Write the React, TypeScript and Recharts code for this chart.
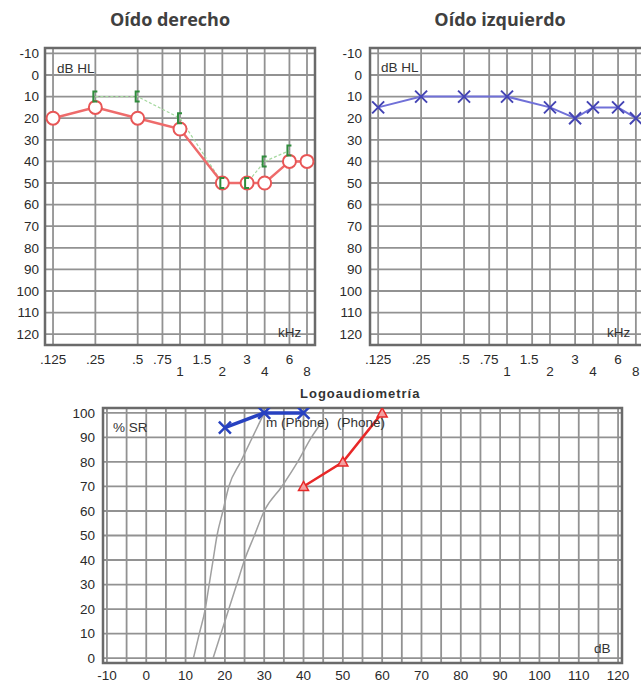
import React from "react";
import {
  ComposedChart,
  Line,
  XAxis,
  YAxis,
  CartesianGrid,
  ReferenceArea
} from "recharts";

// audiogram axes
const freqTicks = [0.125, 0.25, 0.5, 0.75, 1, 1.5, 2, 3, 4, 6, 8];
const freqLabels = [".125", ".25", ".5", ".75", "1", "1.5", "2", "3", "4", "6", "8"];
const freqLowerRow = [1, 2, 4, 8];
const hlTicks = [-10, 0, 10, 20, 30, 40, 50, 60, 70, 80, 90, 100, 110, 120];

// right ear (air = O, bone = [)
const rightAirFreq = [0.125, 0.25, 0.5, 1, 2, 3, 4, 6, 8];
const rightAirDb = [20, 15, 20, 25, 50, 50, 50, 40, 40];
const rightBoneFreq = [0.25, 0.5, 1, 2, 3, 4, 6];
const rightBoneDb = [10, 10, 20, 50, 50, 40, 35];

// left ear (air = X)
const leftAirFreq = [0.125, 0.25, 0.5, 1, 2, 3, 4, 6, 8];
const leftAirDb = [15, 10, 10, 10, 15, 20, 15, 15, 20];

// logoaudiometria
const srDbTicks = [-10, -5, 0, 5, 10, 15, 20, 25, 30, 35, 40, 45, 50, 55, 60, 65, 70, 75, 80, 85, 90, 95, 100, 105, 110, 115, 120];
const srPctTicks = [0, 10, 20, 30, 40, 50, 60, 70, 80, 90, 100];
const normalADb = [12, 13.5, 15, 16, 17, 18, 19.5, 21, 24, 27, 30];
const normalAPct = [0, 10, 20, 30, 40, 50, 60, 70, 80, 90, 100];
const normalBDb = [17, 19, 21, 23, 25, 27.5, 30, 34.5, 38.5, 42, 45];
const normalBPct = [0, 10, 20, 30, 40, 50, 60, 70, 80, 90, 97];
const leftSrDb = [20, 30, 40];
const leftSrPct = [94, 100, 100];
const rightSrDb = [40, 50, 60];
const rightSrPct = [70, 80, 100];

const FREQ_DOMAIN = [0.1096, 9.12];
const HL_DOMAIN = [-12.5, 125];
const SR_X_DOMAIN = [-11, 121];
const SR_Y_DOMAIN = [-2, 102];

const zip = (xs: number[], ys: number[]) => xs.map((x, i) => ({ x, y: ys[i] }));

const FONT = "'Liberation Sans', Arial, sans-serif";
const GRID = "#929292";
const FRAME = "#6a6a6a";
const TICK = { fontSize: 13.5, fill: "#2a2a2a", fontFamily: FONT };

const FreqTick = (p: any) => {
  const v = p.payload.value;
  const label = freqLabels[freqTicks.indexOf(v)];
  const low = freqLowerRow.includes(v);
  return (
    <text
      x={p.x + (v === 1.5 ? -3 : 0)}
      y={p.y + (low ? 12 : 0)}
      dy="0.71em"
      textAnchor="middle"
      fontSize={13.5}
      fill="#2a2a2a"
      fontFamily={FONT}
    >
      {label}
    </text>
  );
};

const ringDot = (p: any) => (
  <circle key={`o${p.index}`} cx={p.cx} cy={p.cy} r={6.5} fill="#fff" stroke="#e85656" strokeWidth={2} />
);

const bracketDot = (p: any) => (
  <path
    key={`b${p.index}`}
    d={`M${p.cx + 2},${p.cy - 5} L${p.cx - 2},${p.cy - 5} L${p.cx - 2},${p.cy + 5} L${p.cx + 2},${p.cy + 5}`}
    fill="none"
    stroke="#2f8c3c"
    strokeWidth={2}
  />
);

const crossDot = (color: string, s: number, w: number) => (p: any) => (
  <path
    key={`x${p.index}`}
    d={`M${p.cx - s},${p.cy - s} L${p.cx + s},${p.cy + s} M${p.cx - s},${p.cy + s} L${p.cx + s},${p.cy - s}`}
    stroke={color}
    strokeWidth={w}
    fill="none"
  />
);

const triDot = (p: any) => (
  <path
    key={`t${p.index}`}
    d={`M${p.cx},${p.cy - 5} L${p.cx + 5},${p.cy + 4} L${p.cx - 5},${p.cy + 4} Z`}
    fill="#f3a0a0"
    stroke="#e82828"
    strokeWidth={1.5}
  />
);

function Note({ x, y, size = 13.5, children }: any) {
  return (
    <div
      style={{
        position: "absolute",
        left: x,
        top: y,
        transform: "translateY(-50%)",
        fontFamily: FONT,
        fontSize: size,
        lineHeight: 1,
        color: "#333",
        whiteSpace: "nowrap"
      }}
    >
      {children}
    </div>
  );
}

function Title({ cx, children }: any) {
  return (
    <div
      style={{
        position: "absolute",
        left: cx - 100,
        width: 200,
        top: 19,
        transform: "translateY(-50%)",
        textAlign: "center",
        fontFamily: "'Open Sans', sans-serif",
        fontWeight: 700,
        fontSize: 18,
        lineHeight: 1,
        color: "#404040"
      }}
    >
      {children}
    </div>
  );
}

function Audiogram({ left, width, right, tickGap, children }: any) {
  return (
    <div style={{ position: "absolute", left, top: 40 }}>
      <ComposedChart width={width} height={340} margin={{ top: 8, right, left: 0, bottom: 0 }}>
        <CartesianGrid stroke={GRID} strokeWidth={1.8} />
        <XAxis
          type="number"
          dataKey="x"
          scale="log"
          domain={FREQ_DOMAIN}
          ticks={freqTicks}
          interval={0}
          allowDataOverflow
          axisLine={false}
          tickLine={false}
          tickSize={0}
          tickMargin={9}
          height={35}
          tick={(p: any) => <FreqTick key={p.index} {...p} />}
        />
        <YAxis
          type="number"
          reversed
          domain={HL_DOMAIN}
          ticks={hlTicks}
          interval={0}
          allowDataOverflow
          axisLine={false}
          tickLine={false}
          tickSize={0}
          tickMargin={tickGap}
          width={45}
          tick={TICK}
        />
        <ReferenceArea
          x1={FREQ_DOMAIN[0]}
          x2={FREQ_DOMAIN[1]}
          y1={HL_DOMAIN[0]}
          y2={HL_DOMAIN[1]}
          fill="none"
          stroke={FRAME}
          strokeWidth={2.5}
        />
        {children}
      </ComposedChart>
    </div>
  );
}

export default function App() {
  const rightAir = zip(rightAirFreq, rightAirDb);
  const rightBone = zip(rightBoneFreq, rightBoneDb);
  const leftAir = zip(leftAirFreq, leftAirDb);

  return (
    <div
      style={{
        position: "fixed",
        left: 0,
        top: 0,
        width: 641,
        height: 689,
        overflow: "hidden",
        background: "#fff"
      }}
    >
      <Title cx={170}>Oído derecho</Title>
      <Title cx={500}>Oído izquierdo</Title>

      <Audiogram left={0} width={320} right={5} tickGap={6}>
        <Line data={rightBone} dataKey="y" type="linear" stroke="#a6d9a0" strokeWidth={1.2} strokeDasharray="3 2" dot={false} isAnimationActive={false} />
        <Line data={rightAir} dataKey="y" type="linear" stroke="#ee6b6b" strokeWidth={2.5} dot={ringDot} isAnimationActive={false} />
        <Line data={rightBone} dataKey="y" type="linear" stroke="none" dot={bracketDot} isAnimationActive={false} />
      </Audiogram>

      <Audiogram left={325} width={322} right={3} tickGap={8}>
        <Line data={leftAir} dataKey="y" type="linear" stroke="#7070d8" strokeWidth={2} dot={crossDot("#4444b4", 6, 2)} isAnimationActive={false} />
      </Audiogram>

      <Note x={57} y={69}>dB HL</Note>
      <Note x={278} y={333}>kHz</Note>
      <Note x={381} y={68}>dB HL</Note>
      <Note x={607} y={333}>kHz</Note>

      <div
        style={{
          position: "absolute",
          left: 300,
          top: 393,
          transform: "translateY(-50%)",
          fontFamily: FONT,
          fontSize: 13,
          fontWeight: 700,
          letterSpacing: 1,
          lineHeight: 1,
          color: "#333"
        }}
      >
        Logoaudiometría
      </div>

      <div style={{ position: "absolute", left: 40, top: 400 }}>
        <ComposedChart width={600} height={289} margin={{ top: 8, right: 18, left: 0, bottom: 0 }}>
          <CartesianGrid stroke={GRID} strokeWidth={1.8} />
          <XAxis
            type="number"
            dataKey="x"
            domain={SR_X_DOMAIN}
            ticks={srDbTicks}
            interval={0}
            allowDataOverflow
            axisLine={false}
            tickLine={false}
            tickSize={0}
            tickMargin={7}
            height={26}
            tickFormatter={(v: number) => (v % 10 === 0 ? String(v) : "")}
            tick={TICK}
          />
          <YAxis
            type="number"
            domain={SR_Y_DOMAIN}
            ticks={srPctTicks}
            interval={0}
            allowDataOverflow
            axisLine={false}
            tickLine={false}
            tickSize={0}
            tickMargin={8}
            width={63}
            tick={TICK}
          />
          <ReferenceArea
            x1={SR_X_DOMAIN[0]}
            x2={SR_X_DOMAIN[1]}
            y1={SR_Y_DOMAIN[0]}
            y2={SR_Y_DOMAIN[1]}
            fill="none"
            stroke={FRAME}
            strokeWidth={2.5}
          />
          <Line data={zip(normalADb, normalAPct)} dataKey="y" type="monotone" stroke="#a0a0a0" strokeWidth={1.5} dot={false} isAnimationActive={false} />
          <Line data={zip(normalBDb, normalBPct)} dataKey="y" type="monotone" stroke="#a0a0a0" strokeWidth={1.5} dot={false} isAnimationActive={false} />
          <Line data={zip(rightSrDb, rightSrPct)} dataKey="y" type="linear" stroke="#e82828" strokeWidth={2.5} dot={triDot} isAnimationActive={false} />
          <Line data={zip(leftSrDb, leftSrPct)} dataKey="y" type="linear" stroke="#2741c0" strokeWidth={3.5} dot={crossDot("#2741c0", 6, 2.5)} isAnimationActive={false} />
        </ComposedChart>
      </div>

      <Note x={113} y={428}>% SR</Note>
      <Note x={266} y={423}>m (Phone)</Note>
      <Note x={337} y={423}>(Phone)</Note>
      <Note x={594} y={649}>dB</Note>
    </div>
  );
}
